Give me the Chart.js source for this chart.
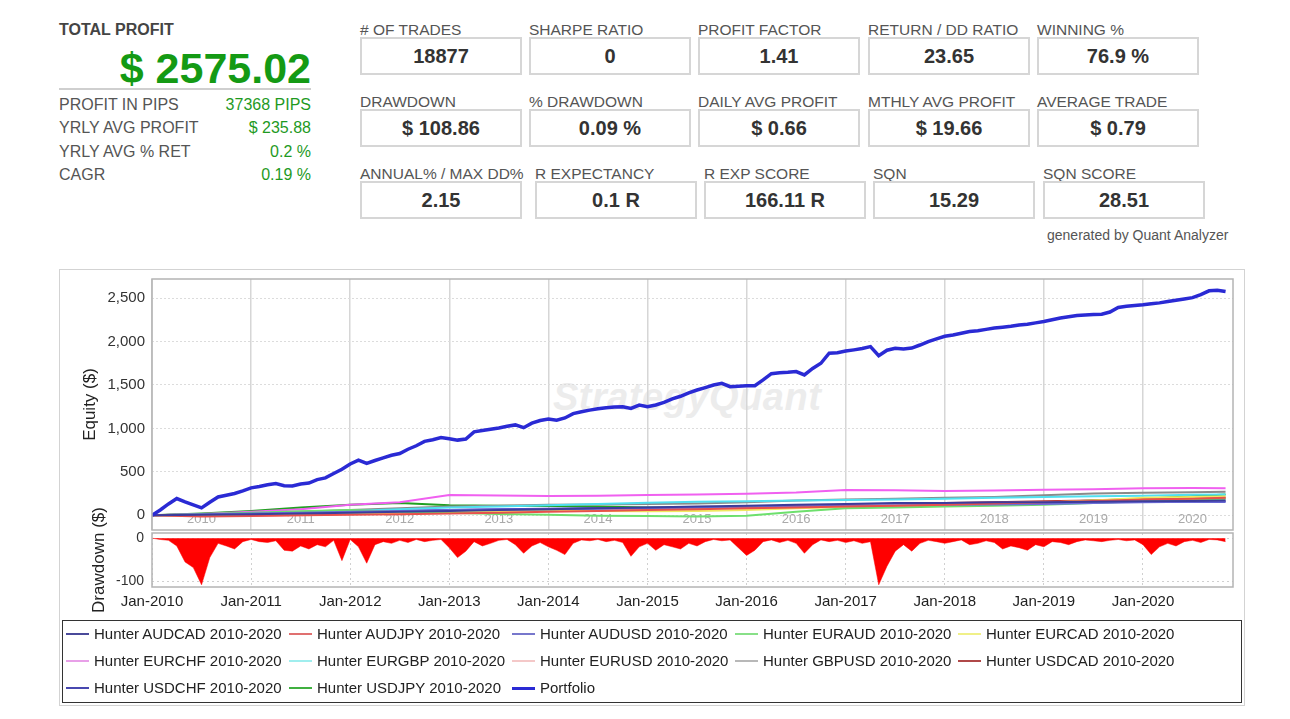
<!DOCTYPE html>
<html>
<head>
<meta charset="utf-8" />
<script src="https://cdn.jsdelivr.net/npm/chart.js"></script>
<style>
  body { margin: 0; background: #fff; font-family: "Liberation Sans", Arial, sans-serif; }
  .lbl { position: absolute; font-size: 15.5px; color: #555; white-space: nowrap; line-height: 18px; }
  .val { position: absolute; font-size: 16px; color: #1f9a1f; white-space: nowrap; line-height: 18px; text-align: right; left: 59px; width: 252px; }
  .box {
    position: absolute; width: 162px; height: 38px; box-sizing: border-box;
    border: 2px solid #d6d6d6; background: #fff;
    font-weight: bold; font-size: 20px; color: #333; text-align: center; line-height: 34px;
  }
  #frame { position: absolute; left: 59px; top: 269px; width: 1186px; height: 437px; box-sizing: border-box; border: 1px solid #d3d3d3; }
  #watermark { position: absolute; left: 553px; top: 376px; font-size: 38px; font-weight: bold; font-style: italic; color: #ececec; letter-spacing: 0.5px; }
  canvas { position: absolute; }
  #legend { position: absolute; left: 62px; top: 620px; width: 1180px; height: 83px; box-sizing: border-box; border: 1.5px solid #333; }
  .item { position: absolute; font-size: 15px; color: #222; white-space: nowrap; line-height: 18px; }
  .item span { display: inline-block; width: 23px; vertical-align: middle; margin-right: 5px; position: relative; top: -1px; }
</style>
</head>
<body>

<div class="lbl" style="left:59px;top:21px;font-weight:bold;font-size:16px;color:#444;">TOTAL PROFIT</div>
<div style="position:absolute;left:59px;top:43px;width:252px;text-align:right;font-size:43px;font-weight:bold;color:#149a14;line-height:50px;">$ 2575.02</div>
<div style="position:absolute;left:59px;top:88px;width:252px;height:2px;background:#cfcfcf;"></div>

<div class="lbl" style="left:59px;top:96px;font-size:16px;">PROFIT IN PIPS</div>
<div class="val" style="top:96px;">37368 PIPS</div>
<div class="lbl" style="left:59px;top:119px;font-size:16px;">YRLY AVG PROFIT</div>
<div class="val" style="top:119px;">$ 235.88</div>
<div class="lbl" style="left:59px;top:143px;font-size:16px;">YRLY AVG % RET</div>
<div class="val" style="top:143px;">0.2 %</div>
<div class="lbl" style="left:59px;top:166px;font-size:16px;">CAGR</div>
<div class="val" style="top:166px;">0.19 %</div>

<div id="stats"></div>

<div style="position:absolute;left:1047px;top:227px;font-size:14px;color:#555;">generated by Quant Analyzer</div>

<div id="frame"></div>
<div id="watermark">StrategyQuant</div>
<canvas id="equityChart" style="left:60px;top:270px;" width="1184" height="262"></canvas>
<canvas id="drawdownChart" style="left:60px;top:500px;" width="1184" height="118"></canvas>
<div id="legend"></div>

<script>
  // stat boxes: [label, value, left, top]
  const statBoxes = [
    ["# OF TRADES", "18877", 360, 37],
    ["SHARPE RATIO", "0", 529, 37],
    ["PROFIT FACTOR", "1.41", 698, 37],
    ["RETURN / DD RATIO", "23.65", 868, 37],
    ["WINNING %", "76.9 %", 1037, 37],
    ["DRAWDOWN", "$ 108.86", 360, 109],
    ["% DRAWDOWN", "0.09 %", 529, 109],
    ["DAILY AVG PROFIT", "$ 0.66", 698, 109],
    ["MTHLY AVG PROFIT", "$ 19.66", 868, 109],
    ["AVERAGE TRADE", "$ 0.79", 1037, 109],
    ["ANNUAL% / MAX DD%", "2.15", 360, 181],
    ["R EXPECTANCY", "0.1 R", 535, 181],
    ["R EXP SCORE", "166.11 R", 704, 181],
    ["SQN", "15.29", 873, 181],
    ["SQN SCORE", "28.51", 1043, 181],
  ];

  const yearLabels = ["2010", "2011", "2012", "2013", "2014", "2015", "2016", "2017", "2018", "2019", "2020"];
  const dateLabels = ["Jan-2010", "Jan-2011", "Jan-2012", "Jan-2013", "Jan-2014", "Jan-2015", "Jan-2016", "Jan-2017", "Jan-2018", "Jan-2019", "Jan-2020"];
  const equityTicks = [0, 500, 1000, 1500, 2000, 2500];
  const drawdownTicks = [0, -100];

  // portfolio equity, one value per month from Jan-2010
  const portfolioEquity = [
    0, 60, 130, 192, 154, 120, 85, 150, 211, 230, 250, 280, 315,
    330, 350, 365, 340, 338, 360, 370, 410, 430, 480, 530, 590,
    634, 596, 630, 660, 690, 711, 760, 800, 850, 870, 895, 880,
    865, 877, 960, 975, 990, 1005, 1025, 1040, 1008, 1060, 1090, 1108,
    1095, 1120, 1170, 1192, 1210, 1225, 1238, 1245, 1250, 1230, 1269, 1250,
    1270, 1300, 1340, 1370, 1410, 1442, 1470, 1500, 1519, 1480, 1485, 1490,
    1492, 1558, 1630, 1640, 1645, 1654, 1615, 1690, 1750, 1865, 1870, 1890,
    1904, 1920, 1942, 1838, 1900, 1923, 1915, 1925, 1960, 2000, 2030, 2060,
    2075, 2095, 2115, 2125, 2140, 2155, 2165, 2175, 2190, 2200, 2215, 2230,
    2250, 2270, 2285, 2300, 2305, 2310, 2315, 2340, 2392, 2405, 2415, 2423,
    2435, 2445, 2460, 2475, 2490, 2505, 2540, 2584, 2590, 2575
  ];

  // portfolio drawdown, one value per month from Jan-2010
  const portfolioDrawdown = [
    0, -3, -5, -18, -55, -68, -108, -45, -12, -18, -25, -8, -3,
    -8, -10, -6, -28, -30, -18, -25, -15, -20, -5, -52, -3,
    -20, -58, -15, -8, -12, -5, -10, -3, -8, -5, -3, -22,
    -45, -30, -8, -18, -12, -5, -3, -15, -35, -18, -10, -20,
    -28, -38, -12, -4, -6, -3, -8, -5, -10, -42, -20, -12,
    -28, -15, -20, -25, -12, -18, -8, -3, -6, -4, -22, -40,
    -28, -8, -4, -10, -5, -12, -35, -15, -4, -8, -5, -10,
    -6, -12, -8, -108, -65, -30, -15, -30, -12, -5, -8, -12,
    -8, -4, -15, -12, -6, -10, -25, -18, -22, -28, -15, -20,
    -8, -10, -15, -8, -4, -6, -8, -5, -3, -6, -4, -15,
    -38, -20, -12, -18, -8, -5, -10, -3, -4, -8
  ];

  // single strategies, sampled every six months (month index)
  const bandMonths = [0, 6, 12, 18, 24, 30, 36, 42, 48, 54, 60, 66, 72, 78, 84, 90, 96, 102, 108, 114, 120, 126, 130];
  const audcad = [0, 5, 10, 20, 30, 40, 50, 60, 70, 80, 90, 100, 110, 120, 130, 140, 140, 150, 150, 155, 160, 165, 170];
  const audjpy = [0, -15, -10, 0, 5, 10, 20, 30, 40, 50, 60, 70, 80, 90, 100, 110, 120, 135, 150, 165, 180, 190, 200];
  const audusd = [0, 10, 20, 30, 40, 50, 60, 65, 70, 75, 80, 85, 90, 100, 110, 115, 120, 125, 130, 140, 150, 155, 160];
  const euraud = [0, 15, 30, 45, 60, 40, 30, 15, 5, -5, -10, -15, -5, 40, 80, 90, 100, 110, 120, 140, 160, 180, 190];
  const eurcad = [0, 0, 5, 10, 20, 30, 40, 50, 55, 50, 45, 50, 60, 80, 95, 110, 115, 130, 145, 170, 200, 210, 215];
  const eurchf = [0, 15, 40, 70, 120, 150, 232, 228, 222, 225, 232, 240, 248, 262, 290, 288, 280, 285, 292, 300, 312, 315, 312];
  const eurgbp = [0, 5, 20, 35, 50, 70, 90, 100, 115, 130, 145, 155, 160, 170, 175, 180, 190, 200, 210, 220, 225, 235, 240];
  const eurusd = [0, -5, -10, 0, 10, 25, 35, 45, 50, 60, 70, 80, 90, 100, 110, 120, 130, 140, 150, 160, 170, 175, 180];
  const gbpusd = [0, 10, 25, 40, 60, 80, 100, 110, 120, 125, 130, 135, 150, 170, 180, 190, 200, 210, 230, 250, 260, 265, 270];
  const usdcad = [0, 0, 5, 15, 25, 35, 45, 55, 65, 75, 80, 90, 100, 110, 120, 130, 140, 150, 160, 170, 185, 195, 200];
  const usdchf = [0, 10, 20, 30, 40, 50, 60, 70, 75, 80, 85, 90, 95, 100, 110, 120, 130, 140, 145, 150, 155, 155, 155];
  const usdjpy = [0, 20, 50, 90, 120, 140, 115, 110, 105, 100, 90, 85, 90, 100, 110, 120, 130, 140, 150, 170, 190, 220, 240];

  const seriesNames = [
    "Hunter AUDCAD 2010-2020", "Hunter AUDJPY 2010-2020", "Hunter AUDUSD 2010-2020", "Hunter EURAUD 2010-2020", "Hunter EURCAD 2010-2020",
    "Hunter EURCHF 2010-2020", "Hunter EURGBP 2010-2020", "Hunter EURUSD 2010-2020", "Hunter GBPUSD 2010-2020", "Hunter USDCAD 2010-2020",
    "Hunter USDCHF 2010-2020", "Hunter USDJPY 2010-2020", "Portfolio"
  ];
  const seriesValues = [audcad, audjpy, audusd, euraud, eurcad, eurchf, eurgbp, eurusd, gbpusd, usdcad, usdchf, usdjpy];
  const seriesColors = ["#3c3c9c", "#e8504c", "#6c6cd8", "#6de06d", "#f0e860", "#f060f0", "#50e0f0", "#f6b8b8", "#8a8a8a", "#b03030", "#3030c0", "#20a020", "#2a2ad4"];
  const legendColors = ["#4a4a9a", "#e07070", "#7777cc", "#88e088", "#f0f088", "#e8a0e8", "#a0eeee", "#f4c8c8", "#b8b8b8", "#b04848", "#4848b0", "#40b040", "#2a2ad4"];

  // stat boxes
  const stats = document.getElementById("stats");
  statBoxes.forEach(([label, value, left, top]) => {
    stats.insertAdjacentHTML("beforeend",
      `<div class="lbl" style="left:${left}px;top:${top - 16}px;">${label}</div>` +
      `<div class="box" style="left:${left}px;top:${top}px;">${value}</div>`);
  });

  // legend
  const legendCols = [3, 226, 449, 672, 895];
  const legend = document.getElementById("legend");
  seriesNames.forEach((name, i) => {
    const col = i % 5, row = Math.floor(i / 5);
    const h = name === "Portfolio" ? 3 : 1.5;
    legend.insertAdjacentHTML("beforeend",
      `<div class="item" style="left:${legendCols[col]}px;top:${4 + row * 27}px;">` +
      `<span style="height:${h}px;background:${legendColors[i]};"></span>${name}</div>`);
  });

  Chart.defaults.font.family = '"Liberation Sans", Arial, sans-serif';
  Chart.defaults.animation = false;

  const plotFrame = {
    id: "plotFrame",
    afterDatasetsDraw(chart) {
      const a = chart.chartArea, ctx = chart.ctx;
      ctx.save();
      ctx.strokeStyle = "#b4b4b4";
      ctx.lineWidth = 1.5;
      ctx.strokeRect(a.left, a.top, a.right - a.left, a.bottom - a.top);
      ctx.restore();
    }
  };

  // fixed axis sizes so the plot areas line up with the picture
  const fitX = (h) => (s) => { s.height = h; s.paddingLeft = 0; s.paddingRight = 0; };
  const fitY = (w) => (s) => { s.width = w; s.paddingTop = 0; s.paddingBottom = 0; };

  const equityDatasets = seriesValues.map((vals, i) => ({
    label: seriesNames[i],
    data: vals.map((v, j) => ({ x: bandMonths[j], y: v })),
    borderColor: seriesColors[i],
    borderWidth: 2,
    pointRadius: 0,
    order: 1
  }));
  equityDatasets.push({
    label: "Portfolio",
    data: portfolioEquity.map((v, j) => ({ x: j, y: v })),
    borderColor: seriesColors[12],
    borderWidth: 3.5,
    pointRadius: 0,
    order: 0
  });

  new Chart(document.getElementById("equityChart"), {
    type: "line",
    data: { datasets: equityDatasets },
    options: {
      responsive: false,
      layout: { padding: { left: 16, right: 11, top: 9, bottom: 2 } },
      plugins: { legend: { display: false }, tooltip: { enabled: false } },
      scales: {
        x: {
          type: "linear", min: 0, max: 130.9,
          // axis sits on the zero line so the year labels fall inside the plot
          position: { y: 0 },
          afterBuildTicks: (s) => { s.ticks = yearLabels.map((_, i) => ({ value: i * 12 + 6 })); },
          ticks: { callback: (v, i) => yearLabels[i], color: "#aaa", font: { size: 13 }, padding: -4, maxRotation: 0, autoSkip: false },
          grid: { offset: true, color: "#d6d6d6", lineWidth: 1.5, drawTicks: false },
          border: { display: false }
        },
        y: {
          min: -170, max: 2720,
          afterBuildTicks: (s) => { s.ticks = equityTicks.map((v) => ({ value: v })); },
          afterFit: fitY(76),
          ticks: { color: "#333", font: { size: 15 }, padding: 7 },
          grid: { color: "#dcdcdc", drawTicks: false },
          border: { display: false, dash: [2, 2] },
          title: { display: true, text: "Equity ($)", color: "#222", font: { size: 17 }, padding: { top: 4, bottom: 4 } }
        }
      }
    },
    plugins: [plotFrame]
  });

  new Chart(document.getElementById("drawdownChart"), {
    type: "line",
    data: {
      datasets: [{
        label: "Drawdown",
        data: portfolioDrawdown.map((v, j) => ({ x: j, y: v })),
        borderColor: "#ff0000",
        backgroundColor: "#ff0000",
        borderWidth: 0.5,
        pointRadius: 0,
        fill: "origin"
      }]
    },
    options: {
      responsive: false,
      layout: { padding: { left: 25, right: 11, top: 33, bottom: 0 } },
      plugins: { legend: { display: false }, tooltip: { enabled: false } },
      scales: {
        x: {
          type: "linear", min: 0, max: 130.9,
          afterBuildTicks: (s) => { s.ticks = dateLabels.map((_, i) => ({ value: i * 12 })); },
          afterFit: fitX(31),
          ticks: { callback: (v, i) => dateLabels[i], color: "#222", font: { size: 15 }, padding: 6, maxRotation: 0, autoSkip: false },
          grid: { color: "#d0d0d0", drawTicks: false },
          border: { display: false, dash: [2, 3] }
        },
        y: {
          min: -113, max: 12,
          afterBuildTicks: (s) => { s.ticks = drawdownTicks.map((v) => ({ value: v })); },
          afterFit: fitY(67),
          ticks: { color: "#333", font: { size: 14 }, padding: 8 },
          grid: { color: "#d0d0d0", drawTicks: false },
          border: { display: false, dash: [2, 3] },
          title: { display: true, text: "Drawdown ($)", color: "#222", font: { size: 17 }, padding: { top: 4, bottom: 4 } }
        }
      }
    },
    plugins: [plotFrame]
  });
</script>
</body>
</html>
